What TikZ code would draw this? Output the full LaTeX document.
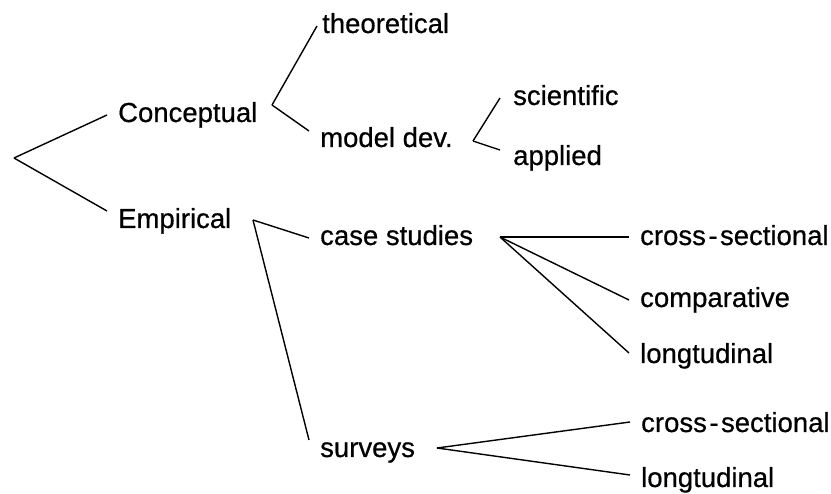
\documentclass[tikz,border=0pt]{standalone}
\usepackage{fontspec}
\setmainfont{Liberation Sans}[BoldFont={Liberation Sans},BoldFeatures={FakeBold=0.6}]
\usepackage{tikz}
\usetikzlibrary{positioning}
\tikzset{%
	every label node/.style={
		anchor=base west,
		inner xsep=11pt,
		inner ysep=0pt,
		text height=20pt,
		text depth=6pt,
		font=\fontsize{27.5pt}{33pt}\selectfont\bfseries
	},
	branch/.style={
		draw,
		line width=1.4pt
	},
}
\newcommand{\crosssec}{cross\kern2.5pt-\kern2.5pt sectional}

\begin{document}
\begin{tikzpicture}[x=1pt,y=-1pt]
			\useasboundingbox (0,0) rectangle (831,494);
			
			% First level
			\coordinate (root) at (14,158);
			\node[every label node] (conc) at (107,122) {Conceptual};
			\node[every label node] (emp) at (107,228) {Empirical};
			\draw[branch] (root) -- (conc.west);
			\draw[branch] (root) -- ([yshift=10pt]emp.west);
			
			% Conceptual branch
			\coordinate (concfork) at (272,105);
			\node[every label node, inner xsep=5pt] (theo) at (317,33) {theoretical};
			\node[every label node] (model) at (309,147) {model dev.};
			\draw[branch] (concfork) -- (theo.west);
			\draw[branch] (concfork) -- ([yshift=9pt]model.west);
			
			% model dev. branch
			\coordinate (modelfork) at (473,141);
			\node[every label node, inner xsep=13pt] (sci) at (500,105) {scientific};
			\node[every label node, inner xsep=13pt] (appl) at (500,165) {applied};
			\draw[branch] (modelfork) -- (sci.west);
			\draw[branch] (modelfork) -- ([yshift=8pt]appl.west);
			
			% Empirical branch
			\coordinate (empfork) at (253,220);
			\node[every label node] (case) at (309,245) {case studies};
			\node[every label node] (surv) at (309,457) {surveys};
			\draw[branch] (empfork) -- (case.west);
			\draw[branch] (empfork) -- ([yshift=10pt]surv.west);
			
			% case studies branch
			\coordinate (casefork) at (500,237);
			\node[every label node] (cscross) at (629,245) {\crosssec};
			\node[every label node] (cscomp) at (629,307) {comparative};
			\node[every label node] (cslong) at (629,363) {longtudinal};
			\draw[branch] (casefork) -- ([yshift=1pt]cscross.west);
			\draw[branch] (casefork) -- (cscomp.west);
			\draw[branch] (casefork) -- ([yshift=3pt]cslong.west);
			
			% surveys branch
			\coordinate (survfork) at (437,448);
			\node[every label node] (svcross) at (630,432) {\crosssec};
			\node[every label node] (svlong) at (630,487) {longtudinal};
			\draw[branch] (survfork) -- ([yshift=3pt]svcross.west);
			\draw[branch] (survfork) -- ([yshift=5pt]svlong.west);
			
		\end{tikzpicture}
\end{document}
